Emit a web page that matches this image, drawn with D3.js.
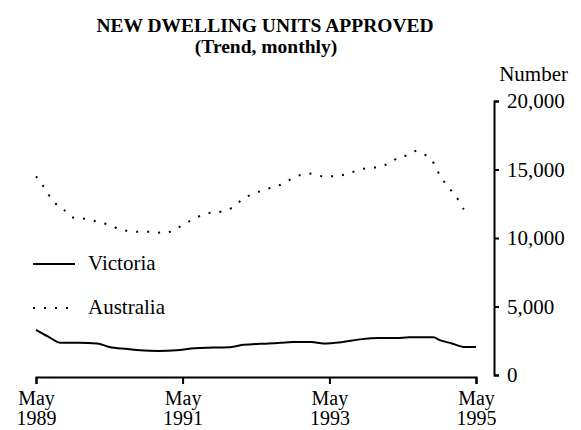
<!DOCTYPE html>
<html>
<head>
<meta charset="utf-8">
<script src="https://cdn.jsdelivr.net/npm/d3@7"></script>
<style>
  body { margin: 0; background: #fff; }
  text { font-family: "Liberation Serif", "Times New Roman", serif; fill: #000; }
</style>
</head>
<body>
<svg width="581" height="430"></svg>
<script>
// monthly trend, thousands of dwelling units
const victoriaMonths = ['1989-05', '1989-07', '1989-09', '1989-12', '1990-03', '1990-05',
  '1990-08', '1990-10', '1991-01', '1991-04', '1991-07', '1991-10', '1992-01', '1992-03',
  '1992-07', '1992-09', '1992-11', '1993-02', '1993-04', '1993-07', '1993-10', '1994-01',
  '1994-04', '1994-06', '1994-10', '1994-11', '1995-01', '1995-03', '1995-05'];
const victoriaValues = [3.3, 2.8, 2.35, 2.35, 2.3, 2.05,
  1.9, 1.8, 1.75, 1.8, 1.95, 2.0, 2.05, 2.2,
  2.3, 2.35, 2.4, 2.4, 2.3, 2.4, 2.6, 2.7,
  2.7, 2.75, 2.75, 2.55, 2.3, 2.05, 2.05];

const australiaMonths = ['1989-05', '1989-06', '1989-07', '1989-08', '1989-09', '1989-10',
  '1989-11', '1990-01', '1990-03', '1990-05', '1990-07', '1990-10', '1990-12', '1991-02',
  '1991-04', '1991-06', '1991-09', '1991-11', '1992-01', '1992-03', '1992-05', '1992-07',
  '1992-10', '1992-11', '1993-02', '1993-04', '1993-06', '1993-08', '1993-10', '1994-01',
  '1994-03', '1994-04', '1994-06', '1994-07', '1994-08', '1994-10', '1994-11', '1995-01',
  '1995-02', '1995-03', '1995-04'];
const australiaValues = [14.5, 13.9, 13.2, 12.6, 12.2, 11.9,
  11.5, 11.4, 11.2, 10.95, 10.6, 10.45, 10.45, 10.35,
  10.7, 11.2, 11.8, 11.9, 12.2, 12.9, 13.3, 13.6,
  14.1, 14.4, 14.7, 14.5, 14.5, 14.7, 15.0, 15.2,
  15.5, 15.8, 16.1, 16.35, 16.2, 15.5, 14.6, 13.4,
  12.8, 12.1, 11.8];

const xTicks = ['1989-05', '1991-05', '1993-05', '1995-05'];
const yTicks = [0, 5000, 10000, 15000, 20000];

const parseMonth = d3.timeParse('%Y-%m');
const svg = d3.select('svg');

const x = d3.scaleTime()
    .domain([parseMonth('1989-05'), parseMonth('1995-05')])
    .range([36, 476]);
const y = d3.scaleLinear()
    .domain([0, 20000])
    .range([375, 101]);

const line = d3.line()
    .curve(d3.curveMonotoneX)
    .x(function(d) { return x(d.date); })
    .y(function(d) { return y(d.value * 1000); });

const victoria = victoriaMonths.map(function(m, i) {
  return {'date': parseMonth(m), 'value': victoriaValues[i]};
});
const australia = australiaMonths.map(function(m, i) {
  return {'date': parseMonth(m), 'value': australiaValues[i]};
});

// titles
svg.append('text')
    .attr('x', 265).attr('y', 32)
    .attr('text-anchor', 'middle')
    .style('font-size', '19.5px').style('font-weight', 'bold')
    .text('NEW DWELLING UNITS APPROVED');
svg.append('text')
    .attr('x', 266).attr('y', 53)
    .attr('text-anchor', 'middle')
    .style('font-size', '19.5px').style('font-weight', 'bold')
    .text('(Trend, monthly)');
svg.append('text')
    .attr('x', 568).attr('y', 81)
    .attr('text-anchor', 'end')
    .style('font-size', '21px')
    .text('Number');

// y axis on the right
const yAxis = svg.append('g')
    .attr('transform', 'translate(494,0)')
    .call(d3.axisRight(y)
        .tickValues(yTicks)
        .tickFormat(d3.format(','))
        .tickSize(5)
        .tickPadding(8));
yAxis.selectAll('path, line').attr('stroke', '#000').attr('stroke-width', 2);
yAxis.selectAll('text').style('font-size', '21px');

// x axis, two-line labels
const xAxis = svg.append('g')
    .attr('transform', 'translate(0,377)')
    .call(d3.axisBottom(x)
        .tickValues(xTicks.map(parseMonth))
        .tickFormat('')
        .tickSize(7));
xAxis.selectAll('path, line').attr('stroke', '#000').attr('stroke-width', 2);
xAxis.selectAll('.tick').each(function(d) {
  const t = d3.select(this).append('text')
      .attr('text-anchor', 'middle')
      .style('font-size', '20px');
  t.append('tspan').attr('x', 0).attr('y', 28).text(d3.timeFormat('%b')(d));
  t.append('tspan').attr('x', 0).attr('y', 48).text(d3.timeFormat('%Y')(d));
});

// series
svg.append('path')
    .datum(australia)
    .attr('fill', 'none')
    .attr('stroke', '#000')
    .attr('stroke-width', 2)
    .attr('stroke-dasharray', '2,9')
    .attr('d', line);
svg.append('path')
    .datum(victoria)
    .attr('fill', 'none')
    .attr('stroke', '#000')
    .attr('stroke-width', 2)
    .attr('d', line);

// legend
const legend = [
  {'name': 'Victoria', 'dash': null, 'y': 264},
  {'name': 'Australia', 'dash': '2,9', 'y': 308},
];
legend.forEach(function(l) {
  svg.append('line')
      .attr('x1', 33).attr('x2', 75)
      .attr('y1', l.y).attr('y2', l.y)
      .attr('stroke', '#000')
      .attr('stroke-width', 2)
      .attr('stroke-dasharray', l.dash);
  svg.append('text')
      .attr('x', 88).attr('y', l.y + 6)
      .style('font-size', '21px')
      .text(l.name);
});
</script>
</body>
</html>
